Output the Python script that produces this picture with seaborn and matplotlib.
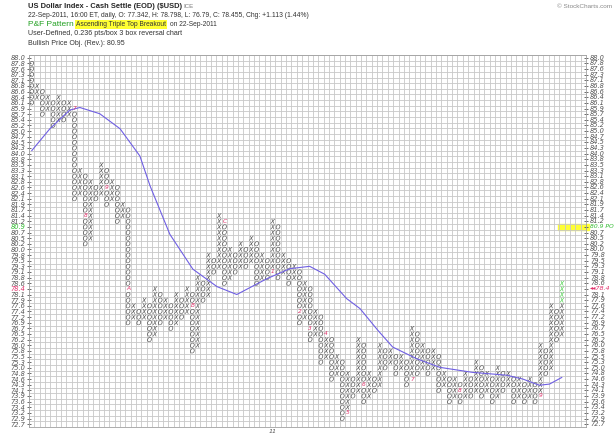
import numpy as np
import pandas as pd
import matplotlib.pyplot as plt
import matplotlib.transforms as mtransforms
import seaborn as sns

sns.set_style("white")
plt.rcParams['font.family'] = ['DejaVu Sans']

# box scale, top to bottom (0.236 pts/box)
box_labels = [88.0, 87.8, 87.6, 87.3, 87.1, 86.8, 86.6, 86.4, 86.1, 85.9, 85.7,
              85.4, 85.2, 85.0, 84.7, 84.5, 84.3, 84.0, 83.8, 83.5, 83.3, 83.1,
              82.8, 82.6, 82.4, 82.1, 81.9, 81.7, 81.4, 81.2, 80.9, 80.7, 80.5,
              80.2, 80.0, 79.8, 79.5, 79.3, 79.1, 78.8, 78.6, 78.4, 78.1, 77.9,
              77.6, 77.4, 77.2, 76.9, 76.7, 76.5, 76.2, 76.0, 75.8, 75.5, 75.3,
              75.0, 74.8, 74.6, 74.3, 74.1, 73.9, 73.6, 73.4, 73.2, 72.9, 72.7]
box_top = 88.03
box_size = 0.236

# P&F columns (alternating O / X): highest box, lowest box
col_kinds = "OX" * 50
col_tops = [87.8, 86.8, 86.6, 86.4, 86.1, 86.4, 86.1, 86.1, 85.9, 83.3,
            83.1, 82.8, 82.6, 83.5, 83.3, 82.8, 82.6, 81.9, 81.7, 77.6,
            77.4, 77.9, 77.6, 78.4, 78.1, 77.9, 77.6, 78.1, 77.9, 78.4,
            78.1, 78.8, 78.6, 79.8, 79.5, 81.4, 81.2, 80.0, 79.8, 80.2,
            80.0, 80.5, 80.2, 79.8, 79.5, 81.2, 80.9, 79.8, 79.5, 79.3,
            79.1, 78.6, 78.4, 77.4, 77.2, 76.5, 76.2, 75.5, 75.3, 74.8,
            74.6, 76.2, 76.0, 74.8, 74.6, 76.0, 75.8, 75.8, 75.5, 75.5,
            75.3, 76.7, 76.5, 76.0, 75.8, 75.8, 75.5, 74.8, 74.6, 74.6,
            74.3, 74.8, 74.6, 75.3, 75.0, 74.8, 74.6, 75.0, 74.8, 74.8,
            74.6, 74.6, 74.3, 74.6, 74.3, 76.0, 75.8, 77.6, 77.4, 78.6]
col_bottoms = [86.1, 86.4, 85.7, 85.9, 85.2, 85.4, 85.4, 85.7, 82.1, 82.4,
               80.2, 80.5, 82.1, 82.4, 81.9, 82.1, 81.2, 81.4, 76.9, 77.2,
               76.9, 77.2, 76.2, 76.5, 76.9, 77.2, 76.7, 76.9, 77.2, 77.4,
               75.8, 76.0, 77.9, 78.1, 79.1, 79.3, 78.6, 78.8, 79.1, 79.3,
               79.3, 79.5, 78.6, 78.8, 78.8, 79.1, 78.8, 79.1, 78.6, 78.8,
               76.9, 77.2, 76.2, 76.5, 75.3, 75.5, 74.6, 74.8, 72.9, 73.2,
               73.9, 74.1, 73.6, 73.9, 74.1, 74.3, 75.0, 75.3, 74.8, 75.0,
               74.3, 74.6, 74.8, 75.0, 74.8, 75.0, 74.1, 74.3, 73.6, 73.9,
               73.6, 73.9, 73.9, 74.1, 73.9, 74.1, 73.6, 73.9, 74.1, 74.3,
               73.6, 73.9, 73.6, 73.9, 73.6, 73.9, 74.8, 75.0, 76.2, 76.5]

# month markers that take the place of a box
month_marks = ['7', '8', '9', 'A', 'B', 'C', '1', '2', '3', '4', '5', '6', '7', '8', '9']
month_cols = [8, 10, 14, 18, 30, 36, 45, 50, 52, 55, 59, 62, 71, 80, 95]
month_boxes = [85.9, 81.4, 82.6, 78.4, 77.6, 81.2, 79.1, 77.4, 76.7, 76.5, 73.2, 74.3, 74.6, 74.1, 73.9]

# boxes added on the last day (green)
new_boxes = [78.6, 78.4, 78.1, 77.9]

# moving average drawn over the columns
ma_cols = [0, 3.4, 7.1, 9.0, 12.7, 16.5, 20.2, 22.1, 25.8, 30.1, 34.6, 38.3, 43.9, 48.2,
           51.9, 54.7, 58.8, 61.3, 64.6, 67.4, 71.9, 76.2, 82.3, 88.7, 91.7, 94.8, 96.7, 99]
ma_vals = [84.14, 85.06, 85.84, 85.95, 85.69, 85.06, 83.92, 82.67, 80.64, 79.18, 78.45,
           78.12, 78.78, 79.20, 79.30, 78.97, 77.95, 77.53, 76.63, 75.92, 75.43, 75.07,
           74.86, 74.74, 74.58, 74.32, 74.37, 74.65]

box_y = [box_top - box_size * i for i in range(len(box_labels))]
marks = set(zip(month_cols, month_boxes))
last_col = len(col_kinds) - 1

rows = []
for c, (k, t, b) in enumerate(zip(col_kinds, col_tops, col_bottoms)):
    for i in range(box_labels.index(t), box_labels.index(b) + 1):
        if (c, box_labels[i]) in marks:
            continue
        state = 'new' if (c == last_col and box_labels[i] in new_boxes) else 'old'
        rows.append({'col': c, 'y': box_y[i], 'kind': k, 'state': state})
df = pd.DataFrame(rows)

fig = plt.figure(figsize=(6.15, 4.37), dpi=100)
ax = fig.add_axes([29 / 615, 1 - 427 / 437, 557 / 615, 372 / 437])

n_cols = 104
ax.set_xlim(-0.5, n_cols - 0.5)
ax.set_ylim(box_y[-1] - box_size / 2, box_y[0] + box_size / 2)

# grid of boxes
ax.set_xticks(np.arange(-0.5, n_cols, 1), minor=True)
ax.set_yticks([v + box_size / 2 for v in box_y] + [box_y[-1] - box_size / 2], minor=True)
ax.grid(which='minor', color='#c8c8c8', lw=0.6)
ax.set_xticks([])
ax.set_axisbelow(True)

sns.lineplot(x=ma_cols, y=ma_vals, color='#6f5fe3', lw=0.8, ax=ax, sort=False)
sns.scatterplot(data=df, x='col', y='y', style='kind', hue='state',
                markers={'X': '$X$', 'O': '$O$'},
                palette={'old': '#4a4a4a', 'new': '#3fcf3f'},
                s=12, linewidth=0, legend=False, ax=ax)

for m, c, b in zip(month_marks, month_cols, month_boxes):
    ax.text(c, box_y[box_labels.index(b)], m, color='#e0306a', fontsize=4.2,
            ha='center', va='center', style='italic')

# left labels
ax.set_yticks(box_y)
ax.set_yticklabels([f"{v:.1f}" for v in box_labels], fontsize=4.8, style='italic', color='#555555')
ax.tick_params(axis='y', which='major', length=3, width=0.6, color='#555555',
               direction='inout', pad=1, left=True, right=True)
ax.tick_params(axis='y', which='minor', length=0)
tl = ax.get_yticklabels()
tl[box_labels.index(80.9)].set_color('#33bb33')
tl[box_labels.index(78.4)].set_color('#e0306a')
ax.set_xlabel('')
ax.set_ylabel('')

# right labels
y_po = box_y[box_labels.index(80.9)]
ax.axhspan(y_po - box_size / 2, y_po + box_size / 2, xmin=0.95, xmax=1.006,
           color='#ffff33', clip_on=False, zorder=0)
for lab, yy in zip(box_labels, box_y):
    txt, col, fs = f"{lab:.1f}", '#555555', 4.8
    if lab == 80.9:
        txt, col, fs = "80.9 PO", '#33bb33', 4.3
    elif lab == 78.4:
        txt, col, fs = "\u25c2\u25c278.4", '#e0306a', 4.6
    ax.text(1.007, yy, txt, transform=ax.get_yaxis_transform(), fontsize=fs,
            style='italic', color=col, ha='left', va='center')

for s in ax.spines.values():
    s.set_color('#a0a0a0')
    s.set_linewidth(0.6)

# year marker under the January column
xtrans = mtransforms.blended_transform_factory(ax.transData, ax.transAxes)
ax.text(month_cols[month_marks.index('1')], -0.013, "11", transform=xtrans,
        fontsize=4.6, style='italic', color='#555555', ha='center', va='center')

# header
fx = 28 / 615
fig.text(fx, 1 - 6 / 437, "US Dollar Index - Cash Settle (EOD) ($USD)", fontsize=5.4,
         fontweight='bold', family='Liberation Sans', va='center')
fig.text(183 / 615, 1 - 6 / 437, "ICE", fontsize=4.4, color='#777777',
         family='Liberation Sans', va='center')
fig.text(fx, 1 - 15.7 / 437,
         "22-Sep-2011, 16:00 ET, daily, O: 77.342, H: 78.798, L: 76.79, C: 78.455, Chg: +1.113 (1.44%)",
         fontsize=4.9, color='#333333', family='Liberation Sans', va='center')
fig.text(fx, 1 - 24.5 / 437, "P&F Pattern", fontsize=6.0, color='#22a022',
         family='Liberation Sans', va='center')
fig.text(76 / 615, 1 - 24.5 / 437, "Ascending Triple Top Breakout", fontsize=4.75,
         color='#333333', family='Liberation Sans', va='center',
         bbox=dict(facecolor='#ffff33', edgecolor='none', pad=0.6))
fig.text(170 / 615, 1 - 24.5 / 437, "on 22-Sep-2011", fontsize=4.8, color='#333333',
         family='Liberation Sans', va='center')
fig.text(fx, 1 - 33.5 / 437, "User-Defined, 0.236 pts/box 3 box reversal chart",
         fontsize=5.1, color='#333333', family='Liberation Sans', va='center')
fig.text(fx, 1 - 43.3 / 437, "Bullish Price Obj. (Rev.): 80.95", fontsize=5.0,
         color='#333333', family='Liberation Sans', va='center')
fig.text(612 / 615, 1 - 7 / 437, "\u00a9 StockCharts.com", fontsize=4.6, color='#888888',
         family='Liberation Sans', va='center', ha='right')

fig.savefig("out.png", dpi=100)
